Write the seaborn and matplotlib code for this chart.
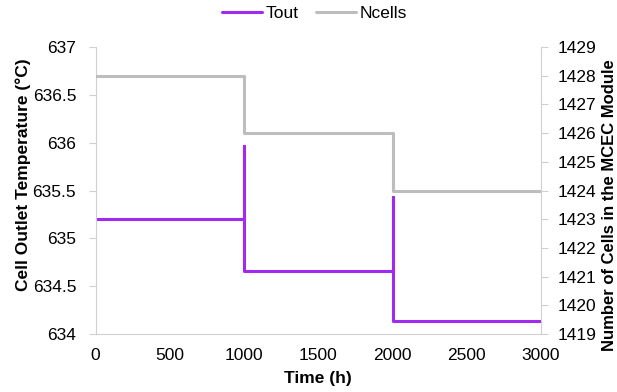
import seaborn as sb
import matplotlib.pyplot as plt
import pandas as pd

# Outlet temperature (step with spikes at each cell loss)
time_tout = [0, 1000, 1000, 1000, 2000, 2000, 2000, 3000]
tout = [635.2, 635.2, 635.97, 634.66, 634.66, 635.43, 634.14, 634.14]

# Number of cells in the module
time_cells = [0, 1000, 1000, 2000, 2000, 3000]
ncells = [1428, 1428, 1426, 1426, 1424, 1424]

left_ticks = [634, 634.5, 635, 635.5, 636, 636.5, 637]
right_ticks = list(range(1419, 1430))

sb.set_style("white")
plt.rcParams["font.family"] = ["Liberation Sans", "DejaVu Sans"]
plt.rcParams["text.color"] = "black"
plt.rcParams["axes.labelcolor"] = "black"

df_t = pd.DataFrame({"time": time_tout, "tout": tout})
df_n = pd.DataFrame({"time": time_cells, "ncells": ncells})

purple = "#A12AF2"
grey = "#BDBDBD"
fs = 12.5

fig, ax = plt.subplots(figsize=(6.17, 3.92), dpi=100)
ax2 = ax.twinx()

sb.lineplot(x="time", y="tout", data=df_t, ax=ax, sort=False, estimator=None,
            color=purple, linewidth=2.2, label="Tout", legend=False)
sb.lineplot(x="time", y="ncells", data=df_n, ax=ax2, sort=False, estimator=None,
            color=grey, linewidth=2.2, label="Ncells", legend=False)

ax.set_xlim(0, 3000)
ax.set_ylim(634, 637)
ax2.set_ylim(1419, 1429)
ax.set_yticks(left_ticks)
ax.set_yticklabels([f"{v:g}" for v in left_ticks])
ax2.set_yticks(right_ticks)
ax.set_xticks(range(0, 3001, 500))

for a in (ax, ax2):
    for s in a.spines.values():
        s.set_visible(False)
    a.tick_params(labelsize=fs, colors="black", length=5, color="#D0D0D0")
ax.spines["bottom"].set_visible(True)
ax.spines["bottom"].set_color("#D0D0D0")
ax.spines["left"].set_visible(True)
ax.spines["left"].set_color("#D0D0D0")
ax2.spines["right"].set_visible(True)
ax2.spines["right"].set_color("#D0D0D0")
ax.tick_params(axis="x", length=0, pad=10)
ax.tick_params(axis="y", pad=9)
ax2.tick_params(axis="y", pad=7)

ax.set_xlabel("Time (h)", fontsize=fs, fontweight="bold", labelpad=6, color="black")
ax.set_ylabel("Cell Outlet Temperature (°C)", fontsize=fs, fontweight="bold", color="black")
ax2.set_ylabel("Number of Cells in the MCEC Module", fontsize=12, fontweight="bold", color="black")
ax.yaxis.set_label_coords(-0.145, 0.554)
ax2.yaxis.set_label_coords(1.136, 0.449)

h1, l1 = ax.get_legend_handles_labels()
h2, l2 = ax2.get_legend_handles_labels()
fig.legend(h1 + h2, l1 + l2, loc="upper center", ncol=2, frameon=False,
           fontsize=fs, bbox_to_anchor=(0.51, 1.025), handlelength=2.3,
           columnspacing=1.0, handletextpad=0.2, labelcolor="black")

plt.subplots_adjust(left=0.155, right=0.877, top=0.88, bottom=0.148)
plt.savefig("out.png", dpi=100)
